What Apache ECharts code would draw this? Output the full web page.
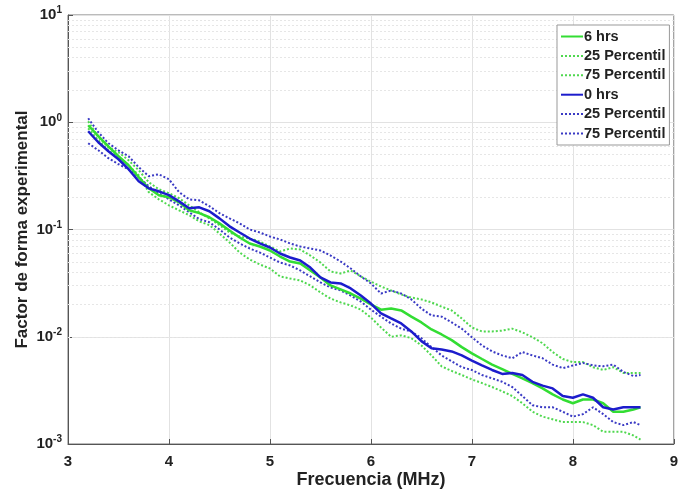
<!DOCTYPE html>
<html>
<head>
<meta charset="utf-8">
<script src="https://cdn.jsdelivr.net/npm/echarts@6/dist/echarts.min.js"></script>
<style>
html,body{margin:0;padding:0;background:#fff;}
#chart{width:681px;height:495px;}
</style>
</head>
<body>
<div id="chart"></div>
<script>
// Frequency (MHz)
const freq = [3.2,3.3,3.4,3.5,3.6,3.7,3.8,3.9,4.0,4.1,
  4.2,4.3,4.4,4.5,4.6,4.7,4.8,4.9,5.0,5.1,
  5.2,5.3,5.4,5.5,5.6,5.7,5.8,5.9,6.0,6.1,
  6.2,6.3,6.4,6.5,6.6,6.7,6.8,6.9,7.0,7.1,
  7.2,7.3,7.4,7.5,7.6,7.7,7.8,7.9,8.0,8.1,
  8.2,8.3,8.4,8.5,8.6,8.67];

// 6 hrs: median, 25 and 75 percentiles
const hrs6 = [.938,.741,.597,.482,.397,.307,.242,.209,.200,.179,
  .151,.142,.130,.114,.0979,.0842,.0741,.0694,.0637,.0560,
  .0503,.0482,.0415,.0357,.0301,.0276,.0253,.0227,.0200,.0179,
  .0183,.0176,.0154,.0136,.0117,.0105,.0093,.0080,.0070,.0062,
  .0055,.0050,.0045,.0041,.0037,.0033,.0029,.0026,.0024,.0026,
  .0026,.0024,.0020,.0020,.0021,.0022];
const hrs6p25 = [.879,.680,.548,.472,.397,.321,.223,.191,.168,.151,
  .136,.119,.110,.0918,.0757,.0610,.0525,.0472,.0433,.0365,
  .0349,.0335,.0301,.0259,.0227,.0209,.0196,.0179,.0151,.0122,
  .0100,.0103,.0097,.0083,.0067,.0053,.0048,.0044,.0040,.0037,
  .0034,.0031,.0028,.0024,.0020,.0018,.0017,.0016,.0016,.0016,
  .0015,.0013,.0013,.0013,.0012,.0011];
const hrs6p75 = [1.02,.725,.585,.525,.442,.357,.276,.237,.218,.196,
  .168,.145,.127,.110,.0938,.0861,.0824,.0773,.0694,.0624,
  .0665,.0651,.0572,.0492,.0406,.0389,.0415,.0365,.0327,.0294,
  .0270,.0248,.0232,.0223,.0209,.0191,.0176,.0148,.0122,.0112,
  .0112,.0114,.0119,.0110,.0099,.0087,.0072,.0062,.0058,.0058,
  .0052,.0049,.0052,.0046,.0046,.0046];

// 0 hrs: median, 25 and 75 percentiles
const hrs0 = [.824,.651,.537,.452,.365,.282,.242,.227,.209,.183,
  .158,.161,.148,.127,.107,.0938,.0824,.0741,.0680,.0597,
  .0548,.0514,.0442,.0357,.0321,.0314,.0282,.0242,.0204,.0165,
  .0148,.0133,.0112,.0091,.0078,.0076,.0073,.0067,.0060,.0054,
  .0049,.0045,.0046,.0044,.0038,.0035,.0033,.0028,.0027,.0029,
  .0027,.0022,.0021,.0022,.0022,.0022];
const hrs0p25 = [.637,.548,.462,.406,.365,.307,.253,.218,.191,.168,
  .145,.125,.117,.100,.0842,.0741,.0665,.0610,.0548,.0492,
  .0462,.0415,.0365,.0321,.0288,.0270,.0242,.0213,.0179,.0154,
  .0133,.0119,.0112,.0097,.0080,.0067,.0059,.0052,.0049,.0044,
  .0041,.0038,.0034,.0028,.0023,.0022,.0022,.0020,.0018,.0019,
  .0022,.0019,.0016,.0015,.0016,.0015];
const hrs0p75 = [1.09,.807,.637,.548,.482,.381,.314,.327,.294,.223,
  .191,.187,.165,.142,.127,.114,.100,.0938,.0861,.0807,
  .0741,.0694,.0665,.0637,.0572,.0503,.0433,.0365,.0314,.0253,
  .0270,.0253,.0223,.0183,.0158,.0154,.0136,.0119,.0099,.0083,
  .0073,.0067,.0063,.0072,.0067,.0063,.0055,.0051,.0054,.0057,
  .0054,.0053,.0055,.0047,.0043,.0044];

const legendNames = ['6 hrs','25 Percentil','75 Percentil','0 hrs','25 Percentil ','75 Percentil '];
const minorTicks = [0.002,0.003,0.004,0.005,0.006,0.007,0.008,0.009,
  0.02,0.03,0.04,0.05,0.06,0.07,0.08,0.09,
  0.2,0.3,0.4,0.5,0.6,0.7,0.8,0.9,
  2,3,4,5,6,7,8,9];

const FONT = '"Liberation Sans", Arial, Helvetica, sans-serif';
const GREEN = '#33dd33';
const GREEN_D = '#4fd84f';
const BLUE = '#1c1ccc';
const BLUE_D = '#3a3ac4';

const pairs = arr => freq.map((f, i) => [f, arr[i]]);
function mk(name, arr, color, dotted, width, z) {
  return {
    name: name, type: 'line', data: pairs(arr), symbol: 'none', showSymbol: false, smooth: false,
    z: z,
    lineStyle: {color: color, width: width, type: dotted ? [2, 2] : 'solid'},
    itemStyle: {color: color}
  };
}

const chart = echarts.init(document.getElementById('chart'), null, {renderer: 'canvas'});
chart.setOption({
  animation: false,
  backgroundColor: '#fff',
  grid: {left: 68, right: 3, top: 15, bottom: 51, show: true, borderColor: '#777', borderWidth: 1},
  legend: {
    data: legendNames,
    orient: 'vertical',
    left: 557, top: 25, z: 20,
    backgroundColor: '#fff',
    borderColor: '#999', borderWidth: 1,
    padding: [4, 4, 4, 3],
    itemWidth: 22, itemHeight: 14, itemGap: 4.4,
    itemStyle: {opacity: 0},
    textStyle: {fontFamily: FONT, fontWeight: 'bold', fontSize: 14.5, color: '#222', padding: [0,0,0,-4]},
    formatter: n => n.trim()
  },
  xAxis: {
    type: 'value', min: 3, max: 9, interval: 1,
    name: 'Frecuencia (MHz)', nameLocation: 'middle', nameGap: 27, nameMoveOverlap: false,
    nameTextStyle: {fontFamily: FONT, fontWeight: 'bold', fontSize: 18, color: '#222'},
    axisLine: {show: true, lineStyle: {color: '#555'}},
    axisTick: {show: true, inside: true, length: 5, lineStyle: {color: '#555'}},
    axisLabel: {fontFamily: FONT, fontWeight: 'bold', fontSize: 15, color: '#222', margin: 10},
    splitLine: {show: true, lineStyle: {color: '#e2e2e2', width: 1}}
  },
  yAxis: {
    type: 'log', logBase: 10, min: 0.001, max: 10,
    name: 'Factor de forma experimental', nameLocation: 'middle', nameGap: 37, nameMoveOverlap: false,
    nameTextStyle: {fontFamily: FONT, fontWeight: 'bold', fontSize: 17, color: '#222'},
    axisLine: {show: true, lineStyle: {color: '#555'}},
    axisTick: {show: true, inside: true, length: 5, lineStyle: {color: '#555'}},
    axisLabel: {
      margin: 6,
      formatter: v => '{b|10}{s|' + Math.round(Math.log10(v)) + '}',
      rich: {
        b: {fontFamily: FONT, fontWeight: 'bold', fontSize: 15, color: '#222'},
        s: {fontFamily: FONT, fontWeight: 'bold', fontSize: 10, color: '#222', verticalAlign: 'bottom', padding: [0, 0, 9, 0]}
      }
    },
    splitLine: {show: true, lineStyle: {color: '#e2e2e2', width: 1}}
  },
  series: [
    {
      name: 'minor', type: 'line', data: [], silent: true, z: 1,
      markLine: {
        silent: true, symbol: 'none', animation: false, z: 1,
        label: {show: false},
        lineStyle: {color: '#e6e6e6', type: [2, 2], width: 1},
        data: minorTicks.map(v => ({yAxis: v}))
      }
    },
    mk(legendNames[2], hrs6p75, GREEN_D, true, 2, 3),
    mk(legendNames[1], hrs6p25, GREEN_D, true, 2, 3),
    mk(legendNames[5], hrs0p75, BLUE_D, true, 2, 3),
    mk(legendNames[4], hrs0p25, BLUE_D, true, 2, 3),
    mk(legendNames[0], hrs6, GREEN, false, 2.5, 4),
    mk(legendNames[3], hrs0, BLUE, false, 2.5, 5)
  ]
});
</script>
</body>
</html>
